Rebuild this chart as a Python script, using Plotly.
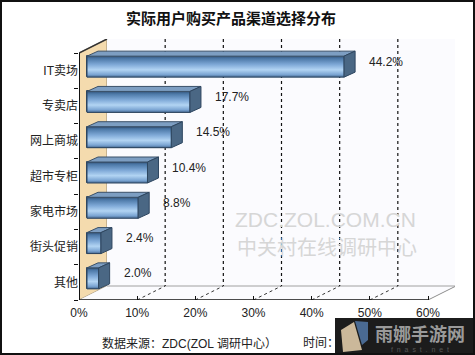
import plotly.graph_objects as go

# ---------------- data ----------------
categories = ['IT卖场', '专卖店', '网上商城', '超市专柜', '家电市场', '街头促销', '其他']
values = [44.2, 17.7, 14.5, 10.4, 8.8, 2.4, 2.0]
x_ticks = [0, 10, 20, 30, 40, 50, 60]
title_text = '实际用户购买产品渠道选择分布'
source_text = '数据来源：ZDC(ZOL 调研中心）'
time_text = '时间：'
watermark1 = 'ZDC.ZOL.COM.CN'
watermark2 = '中关村在线调研中心'

# ---------------- geometry (pixels -> axis units) ----------------
W, H = 475, 355
L, R, T, B = 79, 20, 39, 55
PW, PH = W - L - R, H - T - B          # 376 x 261
XMAX = 60
K = 349 / XMAX                          # px per percent on front plane
NCAT = len(categories)
BAND = 247 / NCAT                       # px per category band
YBOT = NCAT - 0.5


def ux(px):
    return px / K


def uy(px):
    return px / BAND


def pxx(px):
    return (px - L) / PW


def pxy(py):
    return (H - B - py) / PH


DX, DY = ux(28), uy(14)                 # 3D depth offset
YTOP_FRONT = -0.5
BOFF_X, BOFF_Y = ux(8), uy(4)           # bar offset into depth
BHALF = uy(10.5)
BDX, BDY = ux(11), uy(5)                # bar depth

FONT = 'Liberation Sans, Noto Sans CJK SC, sans-serif'

fig = go.Figure()
shapes = []


def path(pts):
    return 'M ' + ' L '.join(f'{x},{y}' for x, y in pts) + ' Z'


# left wall
shapes.append(dict(type='path', xref='x', yref='y', layer='below',
                   path=path([(0, YTOP_FRONT), (DX, YTOP_FRONT - DY), (DX, YBOT - DY), (0, YBOT)]),
                   fillcolor='#f4dbae', line=dict(color='#9a8a70', width=1)))
# back wall
shapes.append(dict(type='rect', xref='x', yref='y', layer='below',
                   x0=DX, x1=XMAX + DX, y0=YTOP_FRONT - DY, y1=YBOT - DY,
                   fillcolor='#fbfbfe', line=dict(width=0)))
# floor
shapes.append(dict(type='path', xref='x', yref='y', layer='below',
                   path=path([(0, YBOT), (XMAX, YBOT), (XMAX + DX, YBOT - DY), (DX, YBOT - DY)]),
                   fillcolor='#fbfbfe', line=dict(width=0)))
# back wall right edge & bottom edge & floor right edge
shapes.append(dict(type='line', xref='x', yref='y', layer='below',
                   x0=XMAX + DX, x1=XMAX + DX, y0=YTOP_FRONT - DY, y1=YBOT - DY,
                   line=dict(color='#8c8c8c', width=1)))
shapes.append(dict(type='line', xref='x', yref='y', layer='below',
                   x0=DX, x1=XMAX + DX, y0=YBOT - DY, y1=YBOT - DY,
                   line=dict(color='#a0a0a0', width=1)))
shapes.append(dict(type='line', xref='x', yref='y', layer='below',
                   x0=XMAX, x1=XMAX + DX, y0=YBOT, y1=YBOT - DY,
                   line=dict(color='#8c8c8c', width=1)))
# dashed grid on back wall and floor
for v in x_ticks[1:-1]:
    shapes.append(dict(type='line', xref='x', yref='y', layer='below',
                       x0=v + DX, x1=v + DX, y0=YTOP_FRONT - DY, y1=YBOT - DY,
                       line=dict(color='#111111', width=1.2, dash='3px,3px')))
    shapes.append(dict(type='line', xref='x', yref='y', layer='below',
                       x0=v, x1=v + DX, y0=YBOT, y1=YBOT - DY,
                       line=dict(color='#333333', width=1, dash='3px,3px')))
# front edges
shapes.append(dict(type='line', xref='x', yref='y', layer='below',
                   x0=0, x1=DX, y0=YTOP_FRONT, y1=YTOP_FRONT - DY,
                   line=dict(color='#333333', width=1.5)))
shapes.append(dict(type='line', xref='x', yref='y', layer='above',
                   x0=0, x1=0, y0=YTOP_FRONT, y1=YBOT,
                   line=dict(color='#111111', width=2)))
shapes.append(dict(type='line', xref='x', yref='y', layer='above',
                   x0=0, x1=XMAX, y0=YBOT, y1=YBOT,
                   line=dict(color='#111111', width=1.5)))

# bars: front face via Bar trace
ypos = [i - BOFF_Y for i in range(NCAT)]
fig.add_trace(go.Bar(orientation='h', y=ypos, x=values, base=BOFF_X, width=2 * BHALF,
                     marker=dict(color='#6d99c8', line=dict(color='#2e4660', width=1)),
                     showlegend=False, hoverinfo='skip'))

# gradient overlay on bar fronts, top faces and end caps
for i, v in enumerate(values):
    yc = ypos[i]
    yt, yb = yc - BHALF, yc + BHALF
    x0, x1 = BOFF_X, BOFF_X + v
    fig.add_trace(go.Scatter(
        x=[x0, x1, x1, x0, x0], y=[yt, yt, yb, yb, yt], mode='lines', fill='toself',
        fillgradient=dict(type='vertical',
                          colorscale=[[0, '#44678f'], [0.12, '#7aa4d2'], [0.35, '#b2d4f3'],
                                      [0.6, '#7fa9d7'], [0.88, '#4d79a8'], [1, '#33557c']]),
        line=dict(color='#2e4660', width=1), showlegend=False, hoverinfo='skip'))
    shapes.append(dict(type='path', xref='x', yref='y', layer='above',
                       path=path([(x0, yt), (x1, yt), (x1 + BDX, yt - BDY), (x0 + BDX, yt - BDY)]),
                       fillcolor='#7d9ec2', line=dict(color='#3a5068', width=1)))
    shapes.append(dict(type='path', xref='x', yref='y', layer='above',
                       path=path([(x1, yt), (x1 + BDX, yt - BDY), (x1 + BDX, yb - BDY), (x1, yb)]),
                       fillcolor='#4a6784', line=dict(color='#2e4660', width=1)))

annotations = []
for i, v in enumerate(values):
    annotations.append(dict(xref='x', yref='y', x=BOFF_X + v, y=ypos[i], xshift=23, yshift=5,
                            xanchor='left', yanchor='middle', showarrow=False,
                            text=f'{v}%', font=dict(family=FONT, size=12, color='#222222')))

# title
annotations.append(dict(xref='paper', yref='paper', x=pxx(231), y=pxy(18), showarrow=False,
                        xanchor='center', yanchor='middle', text=f'<b>{title_text}</b>',
                        font=dict(family='Noto Sans CJK SC, sans-serif', size=15, color='#111111')))
# watermark
annotations.append(dict(xref='paper', yref='paper', x=pxx(325), y=pxy(219), showarrow=False,
                        xanchor='center', yanchor='middle', text=watermark1,
                        font=dict(family=FONT, size=21, color='#d6d6d6')))
annotations.append(dict(xref='paper', yref='paper', x=pxx(327), y=pxy(246), showarrow=False,
                        xanchor='center', yanchor='middle', text=watermark2,
                        font=dict(family='Noto Sans CJK SC, sans-serif', size=20, color='#d6d6d6')))
# source line
annotations.append(dict(xref='paper', yref='paper', x=pxx(100), y=pxy(343), showarrow=False,
                        xanchor='left', yanchor='middle', text=source_text,
                        font=dict(family=FONT, size=12, color='#222222')))
annotations.append(dict(xref='paper', yref='paper', x=pxx(301), y=pxy(343), showarrow=False,
                        xanchor='left', yanchor='middle', text=time_text,
                        font=dict(family=FONT, size=12, color='#222222')))

# site logo overlay (bottom right)
shapes.append(dict(type='rect', xref='paper', yref='paper', layer='above',
                   x0=pxx(335), x1=pxx(476), y0=pxy(318), y1=pxy(356),
                   fillcolor='#1c1c1c', line=dict(width=0)))
shapes.append(dict(type='path', xref='paper', yref='paper', layer='above',
                   path=path([(pxx(341), pxy(330)), (pxx(354), pxy(322)), (pxx(362), pxy(350)),
                              (pxx(343), pxy(352))]),
                   fillcolor='#cbb89a', line=dict(width=0)))
shapes.append(dict(type='path', xref='paper', yref='paper', layer='above',
                   path=path([(pxx(355), pxy(321)), (pxx(368), pxy(322)), (pxx(368), pxy(340)),
                              (pxx(362), pxy(345))]),
                   fillcolor='#4a6a92', line=dict(width=0)))
annotations.append(dict(xref='paper', yref='paper', x=pxx(420), y=pxy(333), showarrow=False,
                        xanchor='center', yanchor='middle', text='<b>雨娜手游网</b>',
                        font=dict(family='Noto Sans CJK SC, sans-serif', size=18, color='#9a9a9a')))
annotations.append(dict(xref='paper', yref='paper', x=pxx(420), y=pxy(349), showarrow=False,
                        xanchor='center', yanchor='middle', text='f  n  a  s  t  .  n  e  t',
                        font=dict(family=FONT, size=7, color='#555555')))

# outer frame
shapes.append(dict(type='rect', xref='paper', yref='paper', layer='above',
                   x0=pxx(1), x1=pxx(474), y0=pxy(354), y1=pxy(1),
                   fillcolor='rgba(0,0,0,0)', line=dict(color='#111111', width=2)))

fig.update_layout(
    width=W, height=H,
    margin=dict(l=L, r=R, t=T, b=B, pad=0),
    paper_bgcolor='white', plot_bgcolor='white',
    showlegend=False, bargap=0,
    shapes=shapes, annotations=annotations,
    font=dict(family=FONT, size=12, color='#222222'),
    xaxis=dict(range=[0, ux(PW)], tickvals=x_ticks, ticktext=[f'{t}%' for t in x_ticks],
               showgrid=False, zeroline=False, showline=False,
               ticks='inside', ticklen=4, tickcolor='#111111', tickwidth=1,
               ticklabelstandoff=4,
               tickfont=dict(family=FONT, size=12, color='#222222'), fixedrange=True),
    yaxis=dict(range=[YBOT, YBOT - uy(PH)], tickvals=list(range(NCAT)), ticktext=categories,
               showgrid=False, zeroline=False, showline=False, ticks='',
               minor=dict(tickvals=[k - 0.5 for k in range(NCAT + 1)], ticks='outside',
                          ticklen=4, tickcolor='#111111', tickwidth=1),
               tickfont=dict(family=FONT, size=12, color='#222222'), fixedrange=True),
)

fig.write_html('out.html')
